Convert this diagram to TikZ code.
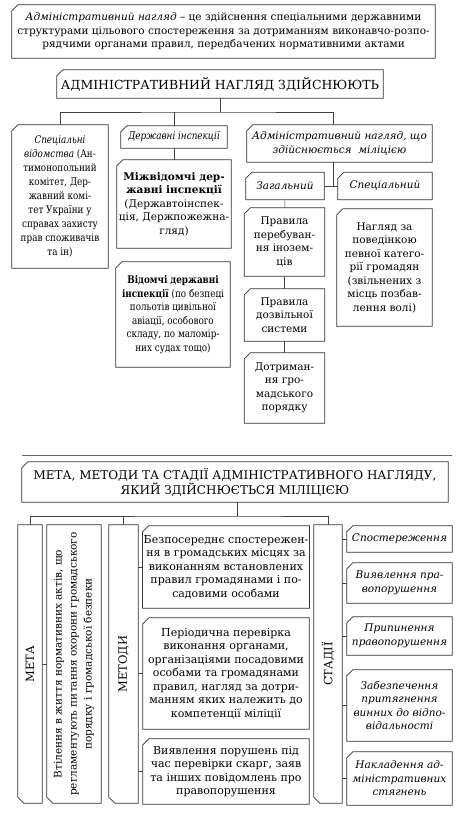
\documentclass[tikz,border=0pt]{standalone}
\usepackage{fontspec}
\setmainfont{DejaVu Serif}
\newfontfamily\narrowfont[FakeStretch=0.84]{DejaVu Serif}
\usetikzlibrary{calc}

\tikzset{
	boxline/.style={draw=black!80, line width=0.7pt},
	box/.style={rectangle, inner sep=1pt, align=center, font=\fontsize{10.5}{13.5}\selectfont,
		append after command={\pgfextra{\let\bx\tikzlastnode
			\draw[boxline] ($(\bx.north west)!6pt!(\bx.north east)$) -- (\bx.north east)
				-- (\bx.south east) -- (\bx.south west)
				-- ($(\bx.north west)!6pt!(\bx.south west)$) -- cycle;}}},
	upbox/.style={box, rotate=90, minimum width=278, font=\fontsize{11.5}{14}\selectfont},
	link/.style={draw=black!75, line width=0.5pt},
}

\begin{document}
\begin{tikzpicture}[x=1pt,y=-1pt]
		\fill[white] (0,0) rectangle (465,828);
		\useasboundingbox (0,0) rectangle (465,828);
		% first scheme
		\node[box, minimum width=423, minimum height=53] (def) at (223.5,31.5)
			{\textit{Адміністративний нагляд} – це здійснення спеціальними державними\\
			структурами цільового спостереження за дотриманням виконавчо-розпо-\\
			рядчими органами правил, передбачених нормативними актами};
		\node[box, minimum width=326, minimum height=28, font=\fontsize{12.5}{15}\selectfont] (zdiysn) at (220,84)
			{АДМІНІСТРАТИВНИЙ НАГЛЯД ЗДІЙСНЮЮТЬ};
		\node[box, minimum width=96, minimum height=143, font=\narrowfont\fontsize{10.5}{14}\selectfont] (spec) at (60,196.5)
			{\textit{Спеціальні}\\ \textit{відомства} (Ан-\\тимонопольний\\комітет, Дер-\\жавний комі-\\тет України у\\справах захисту\\прав споживачів\\та ін)};
		\node[box, minimum width=106, minimum height=22, font=\narrowfont\itshape\fontsize{10.5}{13}\selectfont] (derzh) at (174,137)
			{Державні інспекції};
		\node[box, minimum width=114, minimum height=88] (mizh) at (174,204)
			{\textbf{Міжвідомчі дер-}\\ \textbf{жавні інспекції}\\(Державтоінспек-\\ція, Держпожежна-\\гляд)};
		\node[box, minimum width=114, minimum height=105, font=\narrowfont\fontsize{10.5}{13.5}\selectfont] (vidom) at (173,314.5)
			{\textbf{Відомчі державні}\\ \textbf{інспекції} (по безпеці\\польотів цивільної\\авіації, особового\\складу, по маломір-\\них судах тощо)};
		\node[box, minimum width=185, minimum height=37, font=\itshape\fontsize{10.5}{13.5}\selectfont] (milic) at (339.5,143.5)
			{Адміністративний нагляд, що\\здійснюється\ \ міліцією};
		\node[box, minimum width=78, minimum height=27, font=\itshape\fontsize{10.5}{13}\selectfont] (zag) at (285,186)
			{Загальний};
		\node[box, minimum width=94, minimum height=27, font=\itshape\fontsize{10.5}{13}\selectfont] (specm) at (385,186)
			{Спеціальний};
		\node[box, minimum width=80, minimum height=68] (perebuv) at (284.5,242)
			{Правила\\перебуван-\\ня інозем-\\ців};
		\node[box, minimum width=80, minimum height=52] (dozv) at (284.5,315)
			{Правила\\дозвільної\\системи};
		\node[box, minimum width=80, minimum height=70] (dotrym) at (284.5,388)
			{Дотриман-\\ня гро-\\мадського\\порядку};
		\node[box, minimum width=95, minimum height=117] (povedin) at (384.5,267.5)
			{Нагляд за\\поведінкою\\певної катего-\\рії громадян\\(звільнених з\\місць позбав-\\лення волі)};
		\coordinate (bus1) at (220,112);
		\coordinate (jn) at (333,186);
		\draw[link] (zdiysn) -- (bus1);
		\draw[link] (spec) |- (bus1) -| (milic.north -| jn);
		\draw[link] (derzh) -- (derzh |- bus1);
		\draw[link] (derzh) -- (mizh);
		\draw[link] (milic.south -| jn) -- (jn);
		\draw[link] (zag) -- (specm);
		\draw[link] (zag) -- (perebuv);
		\draw[link] (perebuv) -- (dozv);
		\draw[link] (dozv) -- (dotrym);
		% second scheme
		\draw[black!60, line width=0.8pt] (22,455) -- (452,455);
		\node[box, minimum width=426, minimum height=40, font=\fontsize{12}{15}\selectfont] (metatitle) at (235,482)
			{МЕТА, МЕТОДИ ТА СТАДІЇ АДМІНІСТРАТИВНОГО НАГЛЯДУ,\\ЯКИЙ ЗДІЙСНЮЄТЬСЯ МІЛІЦІЄЮ};
		\node[upbox, minimum height=24] (metal) at (30,664) {МЕТА};
		\node[upbox, minimum height=54, font=\fontsize{10.5}{15}\selectfont] (vtil) at (74,664)
			{Втілення в життя нормативних актів, що\\регламентують питання охорони громадського\\порядку і громадської безпеки};
		\node[upbox, minimum height=29] (metody) at (123.5,664) {МЕТОДИ};
		\node[box, minimum width=166, minimum height=82, font=\fontsize{11}{13.5}\selectfont] (m1) at (226,567)
			{Безпосереднє спостережен-\\ня в громадських місцях за\\виконанням встановлених\\правил громадянами і по-\\садовими особами};
		\node[box, minimum width=166, minimum height=111, font=\fontsize{11}{13.5}\selectfont] (m2) at (226,673.5)
			{Періодична перевірка\\виконання органами,\\організаціями посадовими\\особами та громадянами\\правил, нагляд за дотри-\\манням яких належить до\\компетенції міліції};
		\node[box, minimum width=166, minimum height=65, font=\fontsize{11}{13.5}\selectfont] (m3) at (226,771.5)
			{Виявлення порушень під\\час перевірки скарг, заяв\\та інших повідомлень про\\правопорушення};
		\node[upbox, minimum height=28] (stadii) at (328,664) {СТАДІЇ};
		\node[box, minimum width=105, minimum height=26, font=\itshape\fontsize{10.5}{13.5}\selectfont] (s1) at (399.5,539)
			{Спостереження};
		\node[box, minimum width=105, minimum height=40, font=\itshape\fontsize{10.5}{13.5}\selectfont] (s2) at (399.5,583)
			{Виявлення пра-\\вопорушення};
		\node[box, minimum width=105, minimum height=38, font=\itshape\fontsize{10.5}{13.5}\selectfont] (s3) at (399.5,636)
			{Припинення\\правопорушення};
		\node[box, minimum width=105, minimum height=71, font=\itshape\fontsize{10.5}{13.5}\selectfont] (s4) at (399.5,705.5)
			{Забезпечення\\притягнення\\винних до відпо-\\відальності};
		\node[box, minimum width=105, minimum height=53, font=\itshape\fontsize{10.5}{13.5}\selectfont] (s5) at (399.5,778.5)
			{Накладення ад-\\міністративних\\стягнень};
		\coordinate (bus2) at (237,516);
		\draw[link] (metatitle.south -| bus2) -- (bus2);
		\draw[link] (metal) |- (bus2) -| (stadii);
		\draw[link] (metody) -- (metody |- bus2);
		\draw[link] (metal) -- (vtil);
		\draw[link] (m1 -| metody.south) -- (m1);
		\draw[link] (m2 -| metody.south) -- (m2);
		\draw[link] (m3 -| metody.south) -- (m3);
		\draw[link] (s1 -| stadii.south) -- (s1);
		\draw[link] (s2 -| stadii.south) -- (s2);
		\draw[link] (s3 -| stadii.south) -- (s3);
		\draw[link] (s4 -| stadii.south) -- (s4);
		\draw[link] (s5 -| stadii.south) -- (s5);
	\end{tikzpicture}
\end{document}
